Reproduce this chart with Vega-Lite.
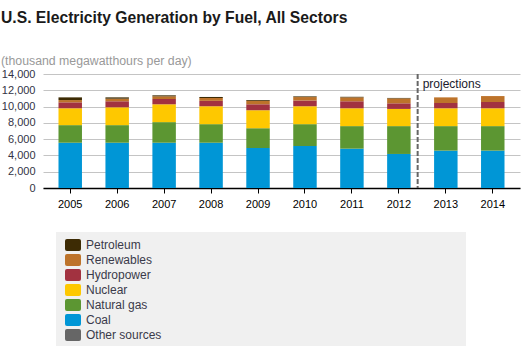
{
  "$schema": "https://vega.github.io/schema/vega-lite/v6.json",
  "width": 477,
  "height": 114,
  "autosize": {"type": "none"},
  "padding": {"left": 43, "top": 74, "right": 2, "bottom": 170},
  "background": "white",
  "title": {
    "text": "U.S. Electricity Generation by Fuel, All Sectors",
    "subtitle": "(thousand megawatthours per day)",
    "anchor": "start",
    "frame": "group",
    "dx": -42,
    "offset": 0,
    "font": "Liberation Sans",
    "fontSize": 15.7,
    "fontWeight": "bold",
    "color": "#1a1a1a",
    "subtitleFont": "Liberation Sans",
    "subtitleFontSize": 12.3,
    "subtitleColor": "#999999",
    "subtitlePadding": 28
  },
  "config": {
    "view": {"stroke": null},
    "font": "Liberation Sans"
  },
  "datasets": {
    "gen": [
      {"year": "2005", "fuel": "Coal", "value": 5560},
      {"year": "2005", "fuel": "Natural gas", "value": 2160},
      {"year": "2005", "fuel": "Nuclear", "value": 2070},
      {"year": "2005", "fuel": "Hydropower", "value": 730},
      {"year": "2005", "fuel": "Renewables", "value": 280},
      {"year": "2005", "fuel": "Petroleum", "value": 330},
      {"year": "2006", "fuel": "Coal", "value": 5560},
      {"year": "2006", "fuel": "Natural gas", "value": 2160},
      {"year": "2006", "fuel": "Nuclear", "value": 2190},
      {"year": "2006", "fuel": "Hydropower", "value": 740},
      {"year": "2006", "fuel": "Renewables", "value": 320},
      {"year": "2006", "fuel": "Petroleum", "value": 160},
      {"year": "2007", "fuel": "Coal", "value": 5560},
      {"year": "2007", "fuel": "Natural gas", "value": 2530},
      {"year": "2007", "fuel": "Nuclear", "value": 2190},
      {"year": "2007", "fuel": "Hydropower", "value": 650},
      {"year": "2007", "fuel": "Renewables", "value": 330},
      {"year": "2007", "fuel": "Petroleum", "value": 120},
      {"year": "2008", "fuel": "Coal", "value": 5560},
      {"year": "2008", "fuel": "Natural gas", "value": 2280},
      {"year": "2008", "fuel": "Nuclear", "value": 2200},
      {"year": "2008", "fuel": "Hydropower", "value": 660},
      {"year": "2008", "fuel": "Renewables", "value": 350},
      {"year": "2008", "fuel": "Petroleum", "value": 130},
      {"year": "2009", "fuel": "Coal", "value": 4910},
      {"year": "2009", "fuel": "Natural gas", "value": 2430},
      {"year": "2009", "fuel": "Nuclear", "value": 2210},
      {"year": "2009", "fuel": "Hydropower", "value": 730},
      {"year": "2009", "fuel": "Renewables", "value": 430},
      {"year": "2009", "fuel": "Petroleum", "value": 100},
      {"year": "2010", "fuel": "Coal", "value": 5160},
      {"year": "2010", "fuel": "Natural gas", "value": 2680},
      {"year": "2010", "fuel": "Nuclear", "value": 2200},
      {"year": "2010", "fuel": "Hydropower", "value": 700},
      {"year": "2010", "fuel": "Renewables", "value": 430},
      {"year": "2010", "fuel": "Petroleum", "value": 80},
      {"year": "2011", "fuel": "Coal", "value": 4830},
      {"year": "2011", "fuel": "Natural gas", "value": 2770},
      {"year": "2011", "fuel": "Nuclear", "value": 2190},
      {"year": "2011", "fuel": "Hydropower", "value": 860},
      {"year": "2011", "fuel": "Renewables", "value": 480},
      {"year": "2011", "fuel": "Petroleum", "value": 70},
      {"year": "2012", "fuel": "Coal", "value": 4180},
      {"year": "2012", "fuel": "Natural gas", "value": 3420},
      {"year": "2012", "fuel": "Nuclear", "value": 2110},
      {"year": "2012", "fuel": "Hydropower", "value": 690},
      {"year": "2012", "fuel": "Renewables", "value": 600},
      {"year": "2012", "fuel": "Petroleum", "value": 60},
      {"year": "2013", "fuel": "Coal", "value": 4590},
      {"year": "2013", "fuel": "Natural gas", "value": 3010},
      {"year": "2013", "fuel": "Nuclear", "value": 2190},
      {"year": "2013", "fuel": "Hydropower", "value": 650},
      {"year": "2013", "fuel": "Renewables", "value": 690},
      {"year": "2014", "fuel": "Coal", "value": 4590},
      {"year": "2014", "fuel": "Natural gas", "value": 3010},
      {"year": "2014", "fuel": "Nuclear", "value": 2190},
      {"year": "2014", "fuel": "Hydropower", "value": 770},
      {"year": "2014", "fuel": "Renewables", "value": 730}
    ],
    "note": [
      {"year": "2013", "label": "projections", "value": 12770}
    ]
  },
  "encoding": {
    "x": {
      "field": "year",
      "type": "ordinal",
      "scale": {"paddingInner": 0.5, "paddingOuter": 0.33},
      "axis": {
        "title": null,
        "labelAngle": 0,
        "domainColor": "#000000",
        "domainWidth": 1.5,
        "tickColor": "#000000",
        "tickSize": 5,
        "labelFontSize": 11,
        "labelColor": "#000000",
        "labelPadding": 5,
        "grid": false
      }
    }
  },
  "layer": [
    {
      "data": {"name": "gen"},
      "transform": [
        {"calculate": "indexof(['Other sources','Coal','Natural gas','Nuclear','Hydropower','Renewables','Petroleum'], datum.fuel)", "as": "rank"}
      ],
      "mark": {"type": "bar"},
      "encoding": {
        "y": {
          "field": "value",
          "type": "quantitative",
          "aggregate": "sum",
          "stack": "zero",
          "scale": {"domain": [0, 14000], "nice": false},
          "axis": {
            "title": null,
            "values": [0, 2000, 4000, 6000, 8000, 10000, 12000, 14000],
            "format": ",.0f",
            "domain": false,
            "ticks": false,
            "grid": true,
            "gridColor": "#c4c4c4",
            "labelPadding": 8,
            "labelFontSize": 11,
            "labelColor": "#333344"
          }
        },
        "color": {
          "field": "fuel",
          "type": "nominal",
          "scale": {
            "domain": ["Petroleum", "Renewables", "Hydropower", "Nuclear", "Natural gas", "Coal", "Other sources"],
            "range": ["#3d2b04", "#bd732a", "#a23240", "#fec800", "#5c9632", "#0096d6", "#666666"]
          },
          "legend": {
            "title": null,
            "orient": "none",
            "legendX": 13,
            "legendY": 158,
            "fillColor": "#f0f0f0",
            "padding": 5,
            "symbolOffset": 4,
            "labelOffset": 5,
            "rowPadding": 1,
            "symbolType": "M-0.75,-0.75L0.75,-0.75Q1,-0.75,1,-0.5L1,0.5Q1,0.75,0.75,0.75L-0.75,0.75Q-1,0.75,-1,0.5L-1,-0.5Q-1,-0.75,-0.75,-0.75ZM48.5,0",
            "symbolSize": 256,
            "symbolStrokeWidth": 0,
            "labelFontSize": 12,
            "labelColor": "#3a3a4a"
          }
        },
        "order": {"field": "rank", "type": "quantitative"}
      }
    },
    {
      "data": {"name": "note"},
      "mark": {"type": "rule", "color": "#666666", "strokeWidth": 2, "strokeDash": [5, 2]},
      "encoding": {
        "x": {"field": "year", "type": "ordinal", "bandPosition": -0.7}
      }
    },
    {
      "data": {"name": "note"},
      "mark": {"type": "text", "align": "left", "baseline": "middle", "dx": 5, "fontSize": 12, "color": "#1a1a2e"},
      "encoding": {
        "x": {"field": "year", "type": "ordinal", "bandPosition": -0.7},
        "y": {
          "field": "value",
          "type": "quantitative",
          "scale": {"domain": [0, 14000], "nice": false},
          "axis": {
            "title": null,
            "values": [0, 2000, 4000, 6000, 8000, 10000, 12000, 14000],
            "format": ",.0f",
            "domain": false,
            "ticks": false,
            "grid": true,
            "gridColor": "#c4c4c4",
            "labelPadding": 8,
            "labelFontSize": 11,
            "labelColor": "#333344"
          }
        },
        "text": {"field": "label"}
      }
    }
  ]
}
